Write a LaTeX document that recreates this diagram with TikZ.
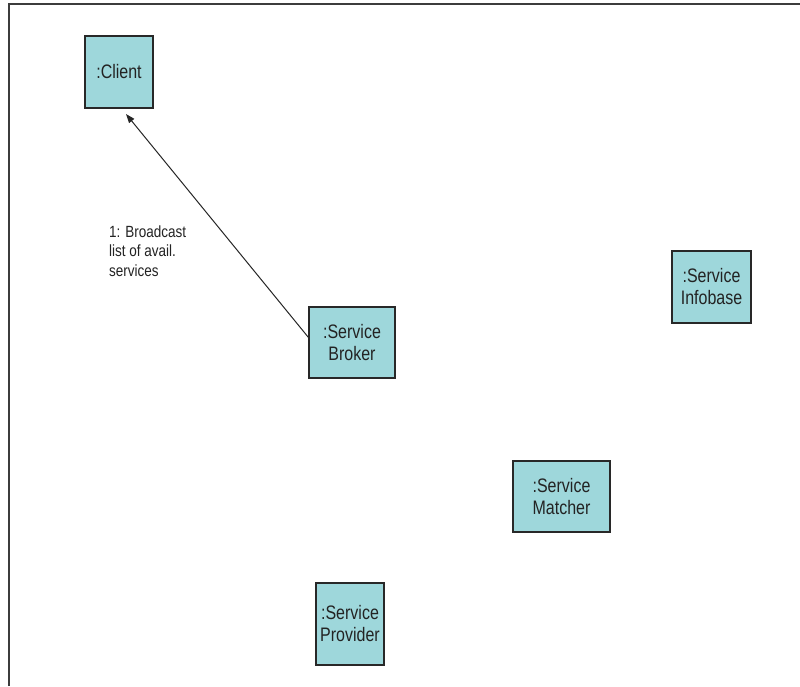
\documentclass[tikz,border=0pt]{standalone}
\usepackage{fontspec}
\setmainfont{Liberation Sans}
\usetikzlibrary{arrows.meta}
\definecolor{objfill}{RGB}{158,215,219}
\definecolor{objline}{RGB}{40,40,40}
\definecolor{framegray}{RGB}{60,60,60}
\definecolor{inktext}{RGB}{35,35,35}
% text stretched vertically, as set in the original drawing tool;
% the lowering keeps the box's own height and depth so the node size is unchanged
\newcommand{\tallc}[1]{\raisebox{-2.5pt}[\height][\depth]{\scalebox{1}[1.22]{\begin{tabular}{@{}c@{}}#1\end{tabular}}}}
\newcommand{\talll}[1]{\scalebox{1}[1.2]{\begin{tabular}{@{}l@{}}#1\end{tabular}}}
\begin{document}
\begin{tikzpicture}[x=1pt,y=-1pt,
  obj/.style={draw=objline, line width=1.2pt, fill=objfill, inner sep=0pt,
    text=inktext, font=\fontsize{16}{18}\selectfont},
  msg/.style={draw=black!85, line width=1pt, -{Triangle[length=9pt,width=6.5pt]}},
  note/.style={inner sep=0pt, anchor=north west, text=inktext,
    font=\fontsize{13.5}{16}\selectfont}]
  \useasboundingbox (0,0) rectangle (800,686);
  \fill[white] (0,0) rectangle (800,686);
  % outer frame (top and left edges)
  \draw[framegray, line width=1.6pt] (9,686) -- (9,4) -- (800,4);

  % objects
  \node[obj, minimum width=68pt, minimum height=72pt] (client)   at (119,72)      {\tallc{:Client}};
  \node[obj, minimum width=86pt, minimum height=71pt] (broker)   at (352,342.5)   {\tallc{:Service\\Broker}};
  \node[obj, minimum width=79pt, minimum height=72pt] (infobase) at (711.5,287)   {\tallc{:Service\\Infobase}};
  \node[obj, minimum width=97pt, minimum height=71pt] (matcher)  at (561.5,496.5) {\tallc{:Service\\Matcher}};
  \node[obj, minimum width=68pt, minimum height=82pt] (provider) at (350,624)     {\tallc{:Service\\Provider}};

  % message from broker to client
  \coordinate (tip) at (126,114);
  \draw[msg] ([yshift=-31pt]broker.north west) -- (tip);
  \node[note] (lbl) at (109,224) {\talll{1: Broadcast\\list of avail.\\services}};
\end{tikzpicture}
\end{document}
